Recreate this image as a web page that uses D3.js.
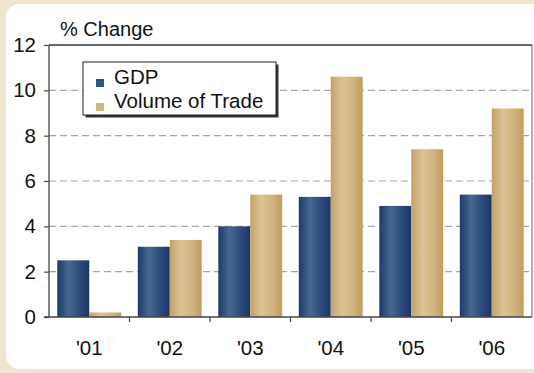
<!DOCTYPE html>
<html>
<head>
<meta charset="utf-8">
<script src="https://cdn.jsdelivr.net/npm/d3@7"></script>
<style>
  html, body { margin: 0; padding: 0; background: #efe4cc; }
  svg { display: block; }
  text { font-family: "Liberation Sans", Arial, sans-serif; fill: #111; }
</style>
</head>
<body>
<svg id="chart" width="534" height="373"></svg>
<script>
// Annual % change, 2001–2006
const years = ["'01", "'02", "'03", "'04", "'05", "'06"];
const seriesNames = ["GDP", "Volume of Trade"];
const gdp = [2.5, 3.1, 4.0, 5.3, 4.9, 5.4];
const trade = [0.2, 3.4, 5.4, 10.6, 7.4, 9.2];
const yTicks = [0, 2, 4, 6, 8, 10, 12];

const svg = d3.select("#chart");
const W = 534, H = 373;
const m = { left: 49, right: 2, top: 45, bottom: 56 };

// white rounded panel on beige background
svg.append("rect").attr("width", W).attr("height", H).attr("fill", "#efe4cc");
svg.append("rect").attr("x", 6).attr("y", 4).attr("width", 560).attr("height", 365)
  .attr("rx", 13).attr("fill", "#ffffff");

const defs = svg.append("defs");
function grad(id, stops) {
  const g = defs.append("linearGradient").attr("id", id)
    .attr("x1", "0%").attr("x2", "100%").attr("y1", "0%").attr("y2", "0%");
  stops.forEach(([o, c]) => g.append("stop").attr("offset", o).attr("stop-color", c));
}
grad("gBlue", [["0%", "#1c3a6a"], ["35%", "#46688f"], ["70%", "#2b4c7c"], ["100%", "#1a3566"]]);
grad("gTan", [["0%", "#c4a266"], ["35%", "#dcc394"], ["70%", "#d1b47f"], ["100%", "#bf9c5f"]]);
const fills = ["url(#gBlue)", "url(#gTan)"];
const swatch = ["#2c5590", "#d5b47e"];

const x0 = d3.scaleBand().domain(years).range([m.left, W - m.right]).paddingInner(0).paddingOuter(0);
const x1 = d3.scaleBand().domain(seriesNames).range([0, x0.bandwidth()]).paddingOuter(0.26).paddingInner(0);
const y = d3.scaleLinear().domain([0, 12]).range([H - m.bottom, m.top]);

// dashed gridlines
svg.append("g").selectAll("line").data(yTicks.filter(d => d > 0)).join("line")
  .attr("x1", m.left).attr("x2", W - m.right)
  .attr("y1", d => y(d)).attr("y2", d => y(d))
  .attr("stroke", d => d === 12 ? "#333" : "#a5a5a5")
  .attr("stroke-width", d => d === 12 ? 1.3 : 1.2)
  .attr("stroke-dasharray", d => d === 12 ? null : "7,4");

// right frame edge
svg.append("line").attr("x1", W - m.right).attr("x2", W - m.right)
  .attr("y1", m.top).attr("y2", y(0)).attr("stroke", "#666").attr("stroke-width", 1);

// bars
const rows = years.map((yr, i) => ({ yr, vals: [gdp[i], trade[i]] }));
svg.append("g").selectAll("g").data(rows).join("g")
  .attr("transform", d => `translate(${x0(d.yr)},0)`)
  .selectAll("rect").data(d => d.vals.map((v, k) => ({ v, k })))
  .join("rect")
  .attr("x", d => x1(seriesNames[d.k]))
  .attr("width", x1.bandwidth())
  .attr("y", d => y(d.v))
  .attr("height", d => y(0) - y(d.v))
  .attr("fill", d => fills[d.k]);

// y axis
const yAxis = svg.append("g").attr("transform", `translate(${m.left},0)`)
  .call(d3.axisLeft(y).tickValues(yTicks).tickSize(5).tickPadding(8).tickFormat(d3.format("d")));
yAxis.select(".domain").attr("stroke", "#444").attr("stroke-width", 1.3).attr("d", `M0,${m.top}V${y(0)}`);
yAxis.selectAll(".tick line").attr("stroke", "#444").attr("stroke-width", 1.2);
yAxis.selectAll("text").attr("font-size", 20.5).attr("fill", "#111");

// x axis
const xAxis = svg.append("g").attr("transform", `translate(0,${y(0)})`)
  .call(d3.axisBottom(x0).tickSize(0).tickPadding(23));
xAxis.select(".domain").attr("stroke", "#444").attr("stroke-width", 1.3)
  .attr("d", `M${m.left - 5},0H${W - m.right}`);
xAxis.selectAll("text").attr("font-size", 20.5).attr("fill", "#111").attr("dy", "0.71em");
// category separators
svg.append("g").selectAll("line").data(years.slice(1)).join("line")
  .attr("x1", d => x0(d)).attr("x2", d => x0(d))
  .attr("y1", y(0)).attr("y2", y(0) + 5)
  .attr("stroke", "#444").attr("stroke-width", 1.2);

// axis title
svg.append("text").attr("x", 60).attr("y", 36).attr("font-size", 20).text("% Change");

// legend
const lg = svg.append("g").attr("transform", "translate(83,62)");
lg.append("rect").attr("x", 2.5).attr("y", 2.5).attr("width", 193).attr("height", 53).attr("fill", "#333");
lg.append("rect").attr("width", 193).attr("height", 53).attr("fill", "#fff")
  .attr("stroke", "#222").attr("stroke-width", 1);
seriesNames.forEach((s, i) => {
  lg.append("rect").attr("x", 13).attr("y", 17 + i * 24).attr("width", 8).attr("height", 8).attr("fill", swatch[i]);
  lg.append("text").attr("x", 31).attr("y", 22 + i * 24).attr("font-size", 20.5).text(s);
});
</script>
</body>
</html>
